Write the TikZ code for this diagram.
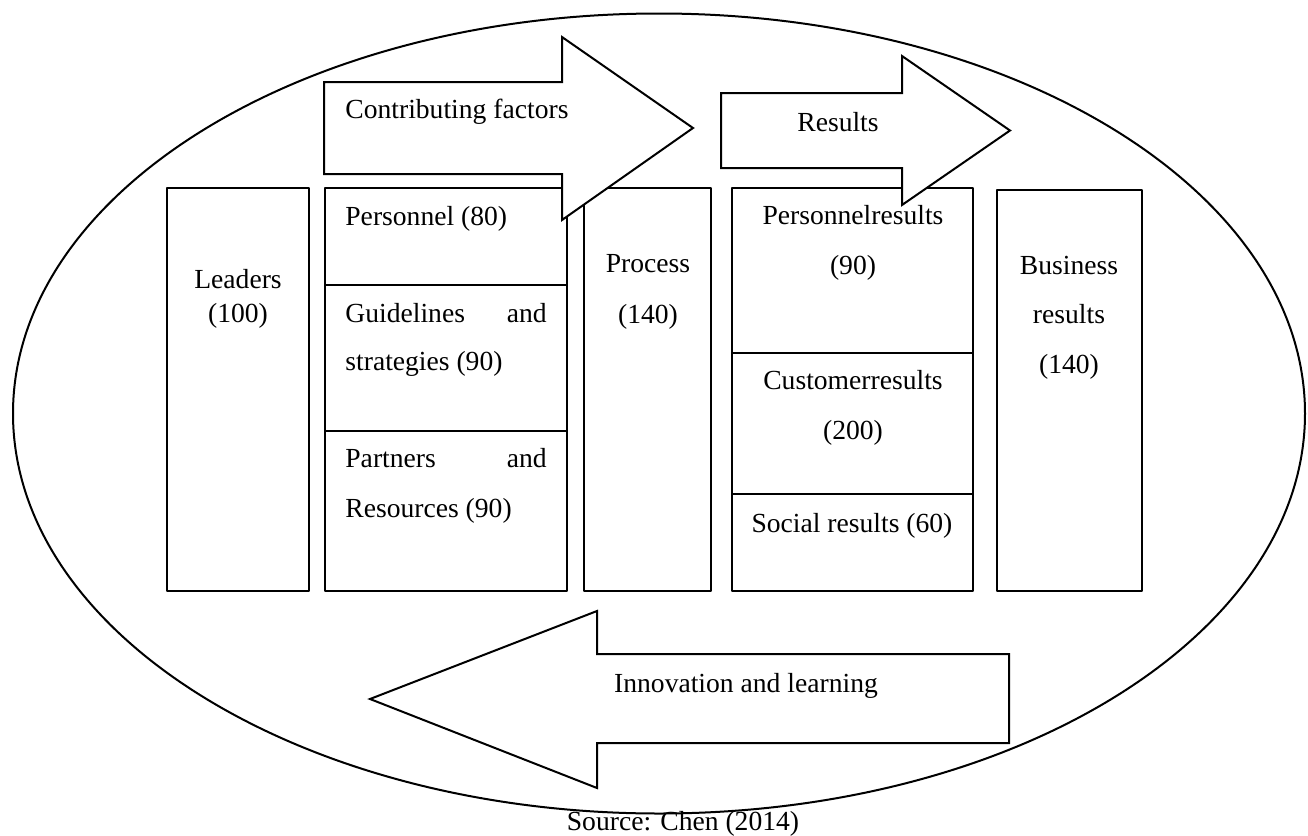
\documentclass[tikz,border=0pt]{standalone}
\usepackage{fontspec}
\setmainfont{Liberation Serif}
\tikzset{
  box/.style={draw, line width=1pt, fill=white, inner sep=0pt, minimum height=201.5pt},
  bigarrow/.style={draw, line width=1pt, fill=white, line join=miter},
  txt/.style={inner sep=0pt, anchor=base},
  txtl/.style={inner sep=0pt, anchor=base west},
  txtr/.style={inner sep=0pt, anchor=base east}
}
\begin{document}
\begin{tikzpicture}[x=0.5pt, y=-0.5pt, font=\fontsize{13.8}{16.5}\selectfont, line join=round]
  \useasboundingbox (0,0) rectangle (1308,836);
  % outer ellipse
  \draw[line width=1pt] (659,413.5) ellipse [x radius=323pt, y radius=200pt];
  % columns
  \node[box, minimum width=71pt] (leaders) at (238,389.5) {};
  \node[box, minimum width=121pt] (factors) at (446,389.5) {};
  \node[box, minimum width=63.5pt] (process) at (647.5,389.5) {};
  \node[box, minimum width=120.5pt] (results) at (852.5,389.5) {};
  \node[box, minimum width=72.5pt, minimum height=200.5pt] (business) at (1069.5,390.5) {};
  \draw[line width=1pt] (factors.west |- 0,285) -- (factors.east |- 0,285);
  \draw[line width=1pt] (factors.west |- 0,431) -- (factors.east |- 0,431);
  \draw[line width=1pt] (results.west |- 0,353) -- (results.east |- 0,353);
  \draw[line width=1pt] (results.west |- 0,494) -- (results.east |- 0,494);
  % big arrows
  \draw[bigarrow] (324,82) -- (562,82) -- (562,37) -- (693,128) -- (562,220) -- (562,174) -- (324,174) -- cycle;
  \draw[bigarrow] (721,93) -- (902,93) -- (902,56) -- (1010,130.5) -- (902,205) -- (902,168) -- (721,168) -- cycle;
  \draw[bigarrow] (1009,654) -- (597,654) -- (597,611) -- (370,699) -- (597,788) -- (597,743) -- (1009,743) -- cycle;
  \node[txtl] (cftext) at (345,118) {Contributing factors};
  \node[txt] (restext) at (838,131) {Results};
  \node[txt] (innotext) at (746,692) {Innovation and learning};
  % texts in the columns
  \node[txt] (lead1) at (238,288) {Leaders};
  \node[txt] (lead2) at (238,322) {(100)};
  \node[txtl] (pers) at (345,225) {Personnel (80)};
  \node[txtl] (guid1) at (345,322) {Guidelines};
  \node[txtr] (guid2) at (547,322) {and};
  \node[txtl] (guid3) at (345,370) {strategies (90)};
  \node[txtl] (part1) at (345,467) {Partners};
  \node[txtr] (part2) at (547,467) {and};
  \node[txtl] (part3) at (345,517) {Resources (90)};
  \node[txt] (proc1) at (648,272) {Process};
  \node[txt] (proc2) at (648,323) {(140)};
  \node[txt] (pres1) at (853,224) {Personnelresults};
  \node[txt] (pres2) at (853,274) {(90)};
  \node[txt] (cres1) at (853,389) {Customerresults};
  \node[txt] (cres2) at (853,439) {(200)};
  \node[txt] (sres) at (852,532) {Social results (60)};
  \node[txt] (bus1) at (1069,274) {Business};
  \node[txt] (bus2) at (1069,323) {results};
  \node[txt] (bus3) at (1069,373) {(140)};
  \node[txt] (source) at (683,830) {Source: Chen (2014)};
\end{tikzpicture}
\end{document}
